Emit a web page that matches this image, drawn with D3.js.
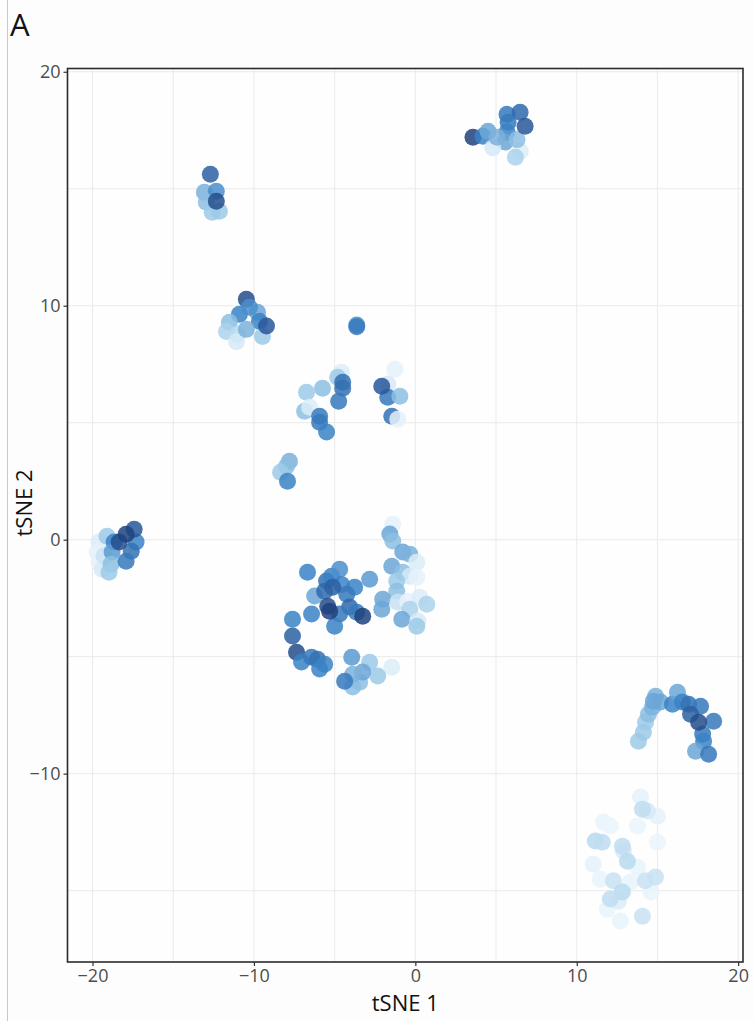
<!DOCTYPE html>
<html>
<head>
<meta charset="utf-8">
<script src="https://cdn.jsdelivr.net/npm/d3@7"></script>
<style>
  html, body { margin: 0; padding: 0; background: #fdfdfd; }
  svg { display: block; font-family: "Open Sans", "Noto Sans", sans-serif; }
</style>
</head>
<body>
<svg id="chart" width="754" height="1021"></svg>
<script>
// tSNE embedding coordinates, one entry per cell, grouped by cluster.
// level = scaled marker intensity used for the blue colour ramp (0 = low, 1 = high)
const clusterTopRight = [
  [3.57, 17.2, 0.95], [4.19, 17.24, 0.6], [4.5, 17.46, 0.45], [5.68, 18.18, 0.65],
  [6.49, 18.27, 0.75], [5.75, 17.84, 0.65], [5.68, 17.43, 0.6], [5.56, 17.0, 0.45],
  [4.8, 16.75, 0.1], [6.5, 16.6, 0.08], [6.2, 16.35, 0.25], [6.3, 17.1, 0.35],
  [5.06, 17.2, 0.4], [6.8, 17.67, 0.85]
];
const clusterUpperLeft = [
  [-12.7, 15.62, 0.8], [-13.07, 14.85, 0.4], [-12.33, 14.89, 0.55], [-12.95, 14.42, 0.35],
  [-12.58, 14.0, 0.3], [-12.14, 14.04, 0.3], [-12.33, 14.47, 0.9]
];
const clusterTen = [
  [-10.47, 10.28, 0.9], [-10.9, 9.64, 0.6], [-9.78, 9.72, 0.45], [-10.28, 9.94, 0.55],
  [-9.66, 9.34, 0.6], [-11.52, 9.29, 0.35], [-11.7, 8.9, 0.25], [-11.02, 8.77, 0.2],
  [-9.47, 8.69, 0.3], [-11.08, 8.46, 0.1], [-10.47, 8.99, 0.4], [-9.22, 9.13, 0.85]
];
const clusterMiddle = [
  [-3.63, 9.18, 0.55], [-3.63, 9.1, 0.65],
  [-4.57, 7.16, 0.08], [-4.81, 6.94, 0.3], [-4.5, 6.73, 0.7], [-4.5, 6.47, 0.7],
  [-4.75, 5.92, 0.65], [-5.75, 6.47, 0.35], [-6.74, 6.3, 0.3], [-6.86, 5.49, 0.35],
  [-6.55, 5.66, 0.08], [-5.93, 5.28, 0.65], [-5.93, 5.02, 0.65], [-5.5, 4.6, 0.6],
  [-1.27, 7.29, 0.05], [-1.71, 6.65, 0.1], [-1.71, 6.09, 0.65], [-0.96, 6.13, 0.35],
  [-1.46, 5.28, 0.7], [-1.09, 5.15, 0.05], [-2.08, 6.56, 0.85],
  [-7.8, 3.35, 0.4], [-7.98, 3.14, 0.35], [-8.35, 2.88, 0.3], [-7.92, 2.5, 0.6]
];
const clusterLeft = [
  [-19.6, -0.1, 0.08], [-19.72, -0.53, 0.05], [-19.6, -0.96, 0.05], [-19.4, -1.26, 0.1],
  [-19.29, -0.7, 0.15], [-19.1, 0.15, 0.3], [-18.66, -0.1, 0.6], [-17.3, -0.1, 0.6],
  [-18.79, -0.53, 0.5], [-18.85, -1.05, 0.35], [-18.98, -1.39, 0.3], [-17.6, -0.49, 0.7],
  [-17.92, -0.92, 0.65], [-18.35, -0.1, 0.9], [-17.42, 0.45, 0.85], [-17.92, 0.23, 0.95]
];
const clusterCentreLight = [
  [-1.4, 0.66, 0.05], [-1.58, 0.24, 0.45], [-1.4, -0.06, 0.35], [-0.78, -0.53, 0.45],
  [-0.34, -0.62, 0.4], [0.09, -0.96, 0.08], [-1.46, -1.13, 0.45], [-0.78, -1.39, 0.35],
  [-0.34, -1.56, 0.1], [0.09, -1.6, 0.05], [-1.15, -1.77, 0.3], [-1.15, -2.2, 0.35],
  [-2.02, -2.54, 0.45], [-2.08, -2.97, 0.45], [-1.09, -2.67, 0.15], [-0.47, -2.63, 0.05],
  [0.28, -2.46, 0.08], [0.71, -2.76, 0.25], [-0.34, -2.97, 0.25], [-0.84, -3.4, 0.45],
  [0.16, -3.48, 0.1], [0.09, -3.7, 0.3]
];
const clusterCentreDark = [
  [-6.68, -1.39, 0.6], [-6.24, -2.41, 0.45], [-5.5, -1.77, 0.7], [-5.19, -1.56, 0.6],
  [-4.69, -1.26, 0.55], [-4.57, -1.92, 0.6], [-3.76, -2.03, 0.6], [-4.25, -2.33, 0.65],
  [-2.83, -1.69, 0.5], [-5.62, -2.2, 0.75], [-5.12, -2.03, 0.8], [-4.07, -2.88, 0.75],
  [-3.63, -3.1, 0.65], [-4.69, -3.18, 0.65], [-5.0, -3.7, 0.6], [-6.43, -3.18, 0.6],
  [-7.61, -3.4, 0.6], [-5.43, -2.84, 0.9], [-5.31, -3.06, 0.95], [-3.26, -3.27, 0.95],
  [-7.61, -4.12, 0.8], [-7.36, -4.81, 0.9], [-7.05, -5.23, 0.6], [-6.43, -5.02, 0.65],
  [-6.06, -5.11, 0.7], [-5.93, -5.53, 0.6], [-5.62, -5.32, 0.6],
  [-1.46, -5.45, 0.08], [-2.33, -5.83, 0.3], [-2.83, -5.24, 0.3], [-3.45, -6.09, 0.35],
  [-3.88, -6.3, 0.35], [-3.26, -5.66, 0.45], [-3.88, -5.75, 0.4], [-3.94, -5.02, 0.5],
  [-4.38, -6.05, 0.65]
];
const clusterArc = [
  [13.82, -8.61, 0.3], [14.13, -8.23, 0.3], [14.26, -7.8, 0.3], [14.44, -7.46, 0.35],
  [14.69, -7.16, 0.4], [14.88, -6.69, 0.4], [14.75, -6.9, 0.45], [15.19, -6.94, 0.45],
  [15.93, -7.03, 0.6], [16.24, -6.52, 0.45], [16.55, -6.94, 0.6], [16.93, -7.03, 0.7],
  [17.67, -7.12, 0.65], [18.48, -7.76, 0.65], [17.8, -8.31, 0.65], [17.86, -8.61, 0.6],
  [17.36, -9.04, 0.45], [18.17, -9.17, 0.65], [17.05, -7.46, 0.8], [17.55, -7.8, 0.9]
];
const clusterBottomRight = [
  [11.65, -12.07, 0.04], [12.08, -12.24, 0.03], [13.76, -12.24, 0.03], [11.46, -14.51, 0.04],
  [13.32, -14.64, 0.04], [15.0, -12.93, 0.03], [12.7, -16.3, 0.04], [11.89, -15.79, 0.04],
  [14.6, -15.06, 0.04], [13.76, -14.0, 0.04], [13.95, -11.0, 0.05], [15.0, -11.82, 0.05],
  [11.02, -13.87, 0.05], [14.38, -11.6, 0.1], [12.89, -13.31, 0.1], [12.58, -15.45, 0.08],
  [14.07, -11.52, 0.18], [11.15, -12.88, 0.2], [11.58, -12.93, 0.18], [12.83, -13.1, 0.18],
  [13.14, -13.74, 0.2], [12.27, -14.58, 0.15], [14.25, -14.58, 0.15], [14.88, -14.42, 0.15],
  [12.83, -15.06, 0.2], [12.08, -15.36, 0.18], [14.07, -16.09, 0.15]
];

const xTicks = [-20, -10, 0, 10, 20];
const yTicks = [-10, 0, 10, 20];
const xMinor = [-15, -5, 5, 15];
const yMinor = [-15, -5, 5, 15];
const xTitle = "tSNE 1";
const yTitle = "tSNE 2";
const panelTag = "A";

const cells = [].concat(
  clusterBottomRight, clusterCentreLight, clusterLeft, clusterMiddle, clusterTen,
  clusterUpperLeft, clusterTopRight, clusterCentreDark, clusterArc
).map(([x, y, level]) => ({ x, y, level }));

const svg = d3.select("#chart");
const W = 754, H = 1021;
const panel = { left: 67.5, right: 743, top: 68.5, bottom: 962 };

const x = d3.scaleLinear().domain([-21.55, 20.3]).range([panel.left, panel.right]);
const y = d3.scaleLinear().domain([-18.05, 20.14]).range([panel.bottom, panel.top]);
const colour = d3.scaleLinear()
  .domain([0, 0.3, 0.6, 0.85, 1])
  .range(["#f3f9fe", "#9ccae8", "#3a82c5", "#285799", "#1a3870"])
  .clamp(true);

// thin rule down the left edge of the figure
svg.append("line")
  .attr("x1", 7.5).attr("x2", 7.5).attr("y1", 0).attr("y2", H)
  .attr("stroke", "#c9c9c9").attr("stroke-width", 1);

svg.append("text")
  .attr("x", 10).attr("y", 36)
  .attr("font-size", 31).attr("fill", "#111")
  .text(panelTag);

const g = svg.append("g");

// panel background
g.append("rect")
  .attr("x", panel.left).attr("y", panel.top)
  .attr("width", panel.right - panel.left).attr("height", panel.bottom - panel.top)
  .attr("fill", "#fefefe");

// grid lines
const grid = g.append("g").attr("stroke", "#eaeaea").attr("stroke-width", 1);
grid.selectAll(".gx").data(xTicks.concat(xMinor)).join("line")
  .attr("x1", d => x(d)).attr("x2", d => x(d))
  .attr("y1", panel.top).attr("y2", panel.bottom);
grid.selectAll(".gy").data(yTicks.concat(yMinor)).join("line")
  .attr("y1", d => y(d)).attr("y2", d => y(d))
  .attr("x1", panel.left).attr("x2", panel.right);

// points
g.append("g").selectAll("circle").data(cells).join("circle")
  .attr("cx", d => x(d.x)).attr("cy", d => y(d.y))
  .attr("r", 8.5)
  .attr("fill", d => colour(d.level))
  .attr("fill-opacity", 0.85);

// panel border
g.append("rect")
  .attr("x", panel.left).attr("y", panel.top)
  .attr("width", panel.right - panel.left).attr("height", panel.bottom - panel.top)
  .attr("fill", "none").attr("stroke", "#2b2b2b").attr("stroke-width", 1.6);

// axes
const xAxis = d3.axisBottom(x).tickValues(xTicks).tickSize(4).tickPadding(3)
  .tickFormat(d => d < 0 ? "\u2212" + Math.abs(d) : d);
const yAxis = d3.axisLeft(y).tickValues(yTicks).tickSize(4).tickPadding(3)
  .tickFormat(d => d < 0 ? "\u2212" + Math.abs(d) : d);

const gx = svg.append("g").attr("transform", `translate(0,${panel.bottom})`).call(xAxis);
const gy = svg.append("g").attr("transform", `translate(${panel.left},0)`).call(yAxis);
[gx, gy].forEach(a => {
  a.select(".domain").remove();
  a.selectAll(".tick line").attr("stroke", "#333").attr("stroke-width", 1.2);
  a.selectAll(".tick text").attr("fill", "#4d4d4d").attr("font-size", 18)
    .attr("font-family", "\"Open Sans\", sans-serif");
});

svg.append("text")
  .attr("x", (panel.left + panel.right) / 2).attr("y", 1011)
  .attr("text-anchor", "middle").attr("font-size", 22).attr("fill", "#111")
  .text(xTitle);

svg.append("text")
  .attr("transform", `translate(32,503) rotate(-90)`)
  .attr("text-anchor", "middle").attr("font-size", 22).attr("fill", "#111")
  .text(yTitle);
</script>
</body>
</html>
